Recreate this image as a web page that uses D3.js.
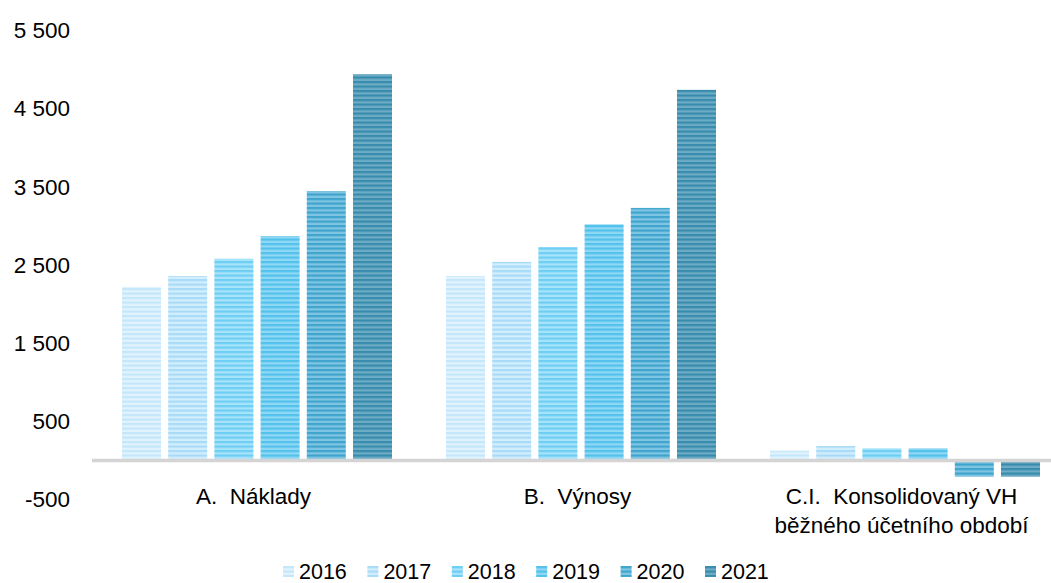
<!DOCTYPE html>
<html>
<head>
<meta charset="utf-8">
<script src="https://cdn.jsdelivr.net/npm/d3@7"></script>
<style>
  body { margin: 0; background: #fff; }
  text { font-family: "Liberation Sans", Arial, sans-serif; fill: #000; }
</style>
</head>
<body>
<div id="chart"></div>
<script>
// data
var categories = ["A.  Náklady", "B.  Výnosy", "C.I.  Konsolidovaný VH|běžného účetního období"];
var years = ["2016", "2017", "2018", "2019", "2020", "2021"];
var values = {
  "2016": [2220, 2360, 125],
  "2017": [2360, 2540, 185],
  "2018": [2580, 2730, 156],
  "2019": [2870, 3020, 156],
  "2020": [3445, 3230, -208],
  "2021": [4940, 4740, -208]
};
var yTicks = [-500, 500, 1500, 2500, 3500, 4500, 5500];

// [light, dark] stripe colours per year
var colors = {
  "2016": ["#e2f3fd", "#c4e6fb"],
  "2017": ["#d3eefc", "#a8dbf8"],
  "2018": ["#a8e3fa", "#6dcef4"],
  "2019": ["#90d8f4", "#52c1eb"],
  "2020": ["#80c5e1", "#3ea4ce"],
  "2021": ["#6eabc4", "#378cae"]
};

var svgWidth = 1051, svgHeight = 583;
var fontSize = "22.5px";

var svg = d3.select("#chart").append("svg")
  .attr("width", svgWidth)
  .attr("height", svgHeight);

// striped fills
var defs = svg.append("defs");
years.forEach(function(yr) {
  var p = defs.append("pattern")
    .attr("id", "pat" + yr)
    .attr("patternUnits", "userSpaceOnUse")
    .attr("width", 8)
    .attr("height", 4.5);
  p.append("rect").attr("width", 8).attr("height", 4.5).attr("fill", colors[yr][0]);
  p.append("rect").attr("y", 0).attr("width", 8).attr("height", 2.2).attr("fill", colors[yr][1]);
});

var x0 = d3.scaleBand()
  .domain(categories)
  .range([91.5, 1063.5]);

var x1 = d3.scaleBand()
  .domain(years)
  .range([30.5, 30.5 + 45 * 6])
  .paddingInner(7 / 45)
  .paddingOuter(0);

var y = d3.scaleLinear()
  .domain([-500, 5500])
  .range([499.6, 30.4]);

// y axis labels
var yAxis = svg.append("g")
  .attr("transform", "translate(70,0)")
  .call(d3.axisLeft(y).tickValues(yTicks).tickSize(0).tickPadding(0)
    .tickFormat(function(d) { return (d < 0 ? "-" : "") + d3.format(",")(Math.abs(d)).replace(/,/g, " "); }));
yAxis.select(".domain").remove();
yAxis.selectAll("text")
  .style("font-size", fontSize)
  .style("font-family", "Liberation Sans, Arial, sans-serif")
  .attr("fill", "#000");

// bars
var groups = svg.selectAll(".grp")
  .data(categories)
  .enter().append("g")
  .attr("transform", function(d) { return "translate(" + x0(d) + ",0)"; });

groups.selectAll("rect")
  .data(function(d, i) { return years.map(function(yr) { return { yr: yr, v: values[yr][i] }; }); })
  .enter().append("rect")
  .attr("x", function(d) { return x1(d.yr); })
  .attr("width", x1.bandwidth())
  .attr("y", function(d) { return y(Math.max(0, d.v)); })
  .attr("height", function(d) { return Math.abs(y(d.v) - y(0)); })
  .attr("fill", function(d) { return "url(#pat" + d.yr + ")"; });

// zero line
svg.append("line")
  .attr("x1", 92).attr("x2", svgWidth)
  .attr("y1", y(0)).attr("y2", y(0))
  .attr("stroke", "#d4d4d4")
  .attr("stroke-width", 3.5);

// category labels
categories.forEach(function(c) {
  var lines = c.split("|");
  var t = svg.append("text")
    .attr("text-anchor", "middle")
    .style("font-size", fontSize)
    .style("white-space", "pre")
    .attr("x", x0(c) + x0.bandwidth() / 2)
    .attr("y", 504);
  lines.forEach(function(l, i) {
    t.append("tspan")
      .attr("x", x0(c) + x0.bandwidth() / 2)
      .attr("dy", i === 0 ? 0 : 29)
      .text(l);
  });
});

// legend
var legend = svg.append("g").attr("transform", "translate(283,566)");
years.forEach(function(yr, i) {
  var g = legend.append("g").attr("transform", "translate(" + (i * 84.4) + ",0)");
  g.append("rect").attr("width", 11).attr("height", 11).attr("fill", "url(#pat" + yr + ")");
  g.append("text").attr("x", 16).attr("y", 12.5).style("font-size", "21.5px").text(yr);
});
</script>
</body>
</html>
